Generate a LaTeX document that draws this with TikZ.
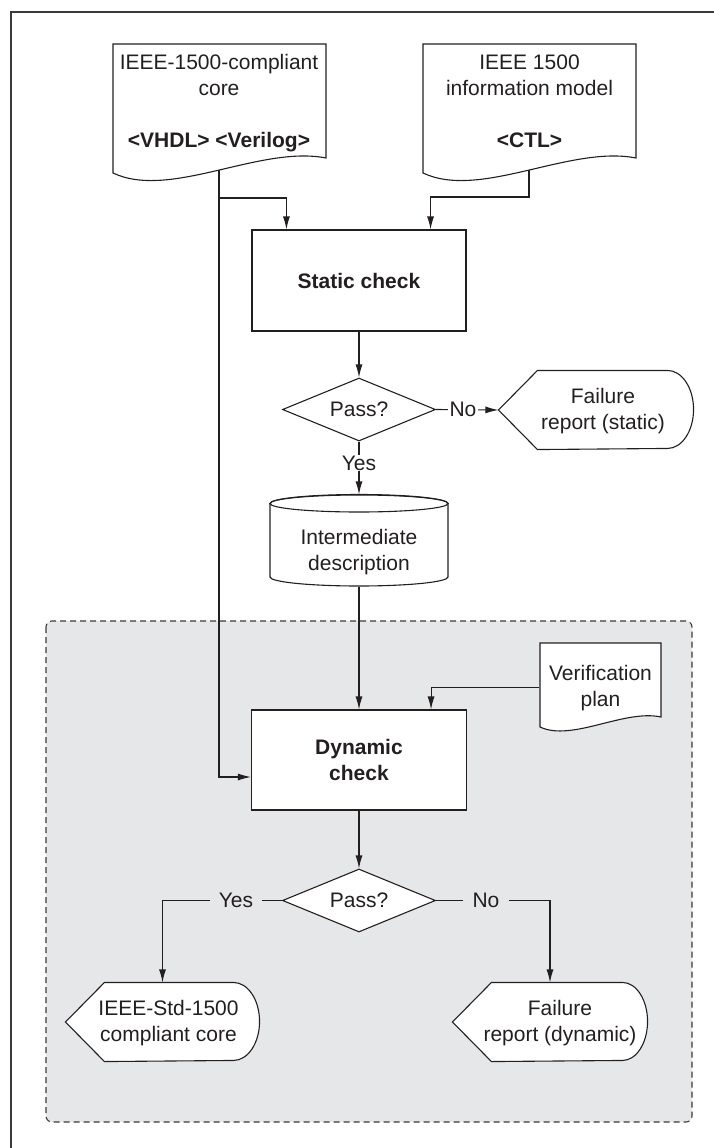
\documentclass[tikz,border=0pt]{standalone}
\usepackage{fontspec}
\setmainfont{Liberation Sans}
\usetikzlibrary{shapes.geometric,arrows.meta}
\definecolor{ink}{HTML}{231F20}
\definecolor{bgray}{HTML}{E6E7E9}
\definecolor{dashc}{HTML}{3A3A3A}
\newcommand\dispshape[2]{%
  \draw[shapeline] (#1.west) -- ([xshift=39pt]#1.north west) -- ([xshift=-#2]#1.north east)
    arc[start angle=90,end angle=-90,x radius=#2,y radius=39pt] -- ([xshift=39pt]#1.south west) -- cycle;}
\begin{document}
\begin{tikzpicture}[x=1pt,y=-1pt, line width=1.1pt, color=ink,
  font=\fontsize{21}{26}\selectfont,
  arr/.style={-{Latex[length=13pt,width=7pt]}},
  procbox/.style={draw=ink, fill=white, rectangle, inner sep=0pt, align=center,
    font=\fontsize{21}{26}\selectfont\bfseries},
  decision/.style={draw=ink, fill=white, diamond, inner sep=0pt, aspect=2.43,
    minimum width=153pt, minimum height=63pt},
  shapebox/.style={inner sep=0pt, rectangle},
  txt/.style={align=center, inner sep=0pt},
  shapeline/.style={draw=ink, fill=white},
]
\useasboundingbox (0,0) rectangle (714,1148);
% outer frame (top and left)
\draw[line width=1.3pt, dashc] (714,12) -- (11,12) -- (11,1148);
% dynamic region
\draw[dashc, dash pattern=on 6pt off 4pt, fill=bgray, rounded corners=6pt, line width=1.1pt]
  (46,621) rectangle (692,1122);

% input documents
\draw[shapeline] (113,44) -- (326,44) -- (326,158) .. controls (260,145) and (170,200) .. (113,173) -- cycle;
\node[txt] (doc1) at (219,103) {IEEE-1500-compliant\\core\\[26pt]\textbf{<VHDL> <Verilog>}};
\draw[shapeline] (423,44) -- (636,44) -- (636,158) .. controls (570,145) and (480,200) .. (423,173) -- cycle;
\node[txt] (doc2) at (529.5,101) {IEEE 1500\\information model\\[26pt]\textbf{<CTL>}};

% static check
\node[procbox, minimum width=214pt, minimum height=101pt] (static) at (359,280.5) {Static check};
\node[decision] (d1) at (359,409.5) {Pass?};
\node[shapebox, minimum width=194pt, minimum height=78pt] (fs) at (596,410) {};
\dispshape{fs}{26pt}
\node[txt] (fsT) at (603,411) {Failure\\report (static)};

% intermediate description (cylinder)
\draw[shapeline] (270,503.5) -- (270,577) arc[start angle=180,end angle=360,x radius=89pt,y radius=9pt]
  -- (448,503.5) arc[start angle=0,end angle=180,x radius=89pt,y radius=9pt] -- cycle;
\draw (359,503.5) ellipse [x radius=89pt, y radius=8.5pt];
\node[shapebox, minimum width=178pt, minimum height=91pt] (cyl) at (359,540.5) {};
\node[txt] (cylT) at (359,552) {Intermediate\\description};

% verification plan
\draw[shapeline] (540,643) -- (661,643) -- (661,717) .. controls (624,709) and (572,742) .. (540,727) -- cycle;
\node[shapebox, minimum width=121pt, minimum height=89pt] (ver) at (600.5,687.5) {};
\node[txt] (verT) at (600.5,688) {Verification\\plan};

% dynamic check
\node[procbox, minimum width=215pt, minimum height=100pt] (dyn) at (359,760) {Dynamic\\check};
\node[decision] (d2) at (359,900.5) {Pass?};
\node[shapebox, minimum width=193pt, minimum height=78pt] (outL) at (162.5,1022) {};
\dispshape{outL}{26pt}
\node[txt] (outLT) at (168.5,1023) {IEEE-Std-1500\\compliant core};
\node[shapebox, minimum width=194pt, minimum height=78pt] (fd) at (550,1022) {};
\dispshape{fd}{25pt}
\node[txt] (fdT) at (560,1023) {Failure\\report (dynamic)};

% connectors
\coordinate (doc1b) at (219,170);
\coordinate (j1) at (219,198);
\coordinate (doc2b) at (529,170);
\coordinate (j2) at (529,197);
\draw[arr] (doc1b) |- ([yshift=-17pt]dyn.west);
\draw[arr] (j1) -| ([xshift=35pt]static.north west);
\draw[arr] (doc2b) -- (j2) -| ([xshift=-36pt]static.north east);
\draw[arr] (static.south) -- (static.south |- d1.north);
\draw[arr] (d1.east) -- (fs.west);
\draw[arr] (d1.south) -- (d1.south |- cyl.north);
\draw[arr] (cyl.south) -- (cyl.south |- dyn.north);
\draw[arr] (ver.west) -| ([xshift=-36pt]dyn.north east);
\draw[arr] (dyn.south) -- (dyn.south |- d2.north);
\draw[arr] (d2.west) -| (outL.north);
\draw[arr] (d2.east) -| (fd.north);

% connector labels
\node[fill=white, inner xsep=2pt, inner ysep=1pt] (no1) at (463,409.5) {No};
\node[fill=white, inner xsep=2pt, inner ysep=1pt] (yes1) at (359,463) {Yes};
\node[fill=bgray, minimum width=52pt, inner ysep=2pt] (yes2) at (236,900.5) {Yes};
\node[fill=bgray, minimum width=46pt, inner ysep=2pt] (no2) at (486,900.5) {No};
\end{tikzpicture}
\end{document}
